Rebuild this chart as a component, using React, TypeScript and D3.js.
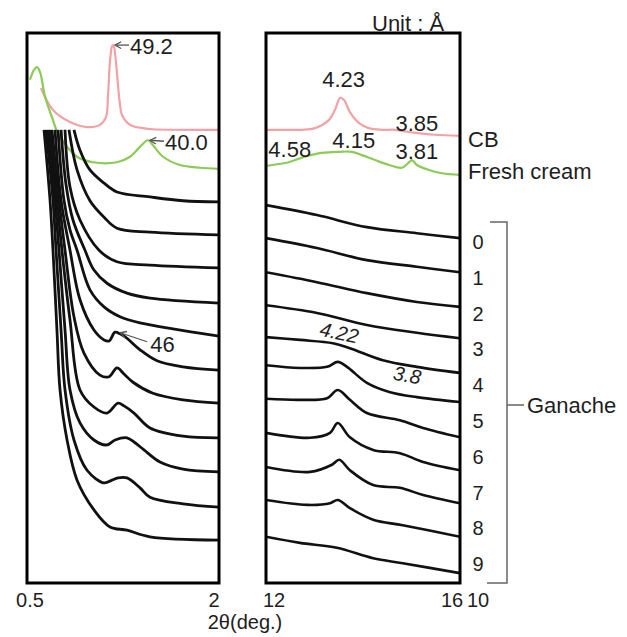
import React from 'react';
import * as d3 from 'd3';

type Pt = [number, number];

// axis ranges (2θ, deg.) and tick labels
const lowAngleDomain: Pt = [0.5, 2];
const wideAngleDomain: Pt = [12, 16];
const lowAngleTicks = [0.5, 2];
const wideAngleTicks = [12, 16];

// ganache sample numbers (0 = top trace)
const sampleLabels = ['0', '1', '2', '3', '4', '5', '6', '7', '8', '9', '10'];

// low angle panel, [2θ, intensity a.u.]
const cbLow: Pt[] = [[0.609, 90.0], [0.625, 89.1], [0.703, 86.0], [0.836, 83.8], [0.969, 82.9], [1.070, 83.3], [1.117, 84.7], [1.133, 88.7], [1.148, 94.7], [1.164, 97.6], [1.172, 97.8], [1.180, 97.5], [1.195, 94.7], [1.211, 90.5], [1.227, 86.9], [1.242, 85.1], [1.305, 83.3], [1.406, 82.7], [1.484, 82.5], [2.0, 82.4]];
const creamLow: Pt[] = [[0.523, 91.5], [0.555, 93.3], [0.578, 93.8], [0.602, 92.9], [0.641, 88.4], [0.695, 84.7], [0.742, 81.8], [0.891, 77.5], [1.016, 76.5], [1.203, 76.5], [1.305, 77.5], [1.383, 79.3], [1.445, 80.5], [1.484, 79.6], [1.563, 77.5], [1.695, 76.0], [1.852, 75.5], [2.0, 75.3]];
const ganacheLow: Pt[][] = [
  [[0.867, 82.4], [0.914, 78.7], [0.992, 75.1], [1.102, 72.7], [1.203, 71.1], [1.461, 70.2], [1.719, 69.5], [2.0, 69.3]],
  [[0.828, 82.4], [0.891, 75.1], [0.992, 69.5], [1.102, 66.5], [1.203, 64.5], [1.461, 63.8], [2.0, 63.3]],
  [[0.797, 82.4], [0.836, 72.0], [0.914, 66.0], [1.063, 60.5], [1.203, 58.4], [1.461, 57.8], [2.0, 57.3]],
  [[0.766, 82.4], [0.805, 72.4], [0.859, 66.0], [0.953, 60.5], [1.023, 56.9], [1.125, 54.5], [1.281, 52.7], [1.461, 51.8], [2.0, 50.9]],
  [[0.742, 82.4], [0.789, 69.6], [0.836, 64.2], [0.891, 60.5], [0.992, 53.3], [1.102, 50.2], [1.227, 48.4], [1.383, 47.3], [2.0, 44.9]],
  [[0.719, 82.4], [0.766, 69.6], [0.836, 60.5], [0.914, 51.5], [1.023, 46.0], [1.102, 44.2], [1.141, 44.0], [1.188, 45.6], [1.227, 45.3], [1.281, 44.5], [1.383, 42.4], [1.516, 40.4], [1.719, 39.3], [2.0, 38.7]],
  [[0.695, 82.4], [0.750, 69.6], [0.797, 60.5], [0.867, 48.4], [0.945, 41.8], [1.070, 37.8], [1.141, 37.5], [1.203, 39.1], [1.258, 38.0], [1.328, 36.5], [1.484, 34.5], [1.719, 33.3], [2.0, 32.7]],
  [[0.680, 82.4], [0.734, 69.6], [0.773, 60.5], [0.836, 47.8], [0.914, 35.1], [1.023, 32.0], [1.125, 30.9], [1.211, 32.7], [1.258, 32.2], [1.336, 30.9], [1.461, 28.2], [1.719, 26.7], [2.0, 26.4]],
  [[0.664, 82.4], [0.719, 69.6], [0.750, 60.5], [0.797, 46.0], [0.836, 35.1], [0.914, 29.1], [1.023, 26.0], [1.125, 25.1], [1.188, 26.0], [1.281, 26.4], [1.344, 25.5], [1.414, 24.2], [1.539, 22.0], [1.719, 20.7], [2.0, 20.2]],
  [[0.648, 82.4], [0.703, 69.6], [0.727, 60.5], [0.766, 46.0], [0.797, 35.1], [0.867, 26.0], [0.969, 20.5], [1.102, 18.2], [1.164, 18.7], [1.211, 19.1], [1.281, 19.1], [1.383, 17.3], [1.461, 15.6], [1.719, 14.4], [2.0, 13.8]],
  [[0.633, 82.4], [0.680, 69.6], [0.703, 60.5], [0.734, 46.0], [0.758, 35.1], [0.813, 26.0], [0.891, 18.7], [1.023, 13.3], [1.148, 10.2], [1.281, 9.6], [1.461, 8.4], [2.0, 7.8]],
];

// wide angle panel
const cbWide: Pt[] = [[12.0, 82.4], [12.33, 82.4], [12.74, 82.4], [13.01, 82.7], [13.30, 84.2], [13.42, 86.0], [13.53, 88.2], [13.61, 87.8], [13.73, 85.6], [13.92, 83.6], [14.12, 82.7], [14.39, 82.4], [14.66, 82.4], [14.95, 82.0], [15.15, 81.8], [15.48, 81.5], [16.0, 81.3]];
const creamWide: Pt[] = [[12.0, 75.8], [12.12, 76.0], [12.47, 76.5], [12.80, 77.5], [13.15, 78.2], [13.51, 78.4], [13.77, 78.4], [13.98, 77.8], [14.25, 76.9], [14.54, 76.0], [14.80, 75.5], [14.95, 76.5], [15.01, 76.9], [15.11, 76.0], [15.36, 75.1], [15.63, 74.5], [16.0, 74.2]];
const ganacheWide: Pt[][] = [
  [[12.0, 68.7], [13.05, 66.9], [14.08, 64.7], [15.11, 63.6], [16.0, 62.7]],
  [[12.0, 62.7], [13.05, 60.9], [14.08, 58.7], [15.11, 57.5], [16.0, 56.5]],
  [[12.0, 56.5], [13.05, 54.7], [14.08, 52.7], [15.11, 51.1], [16.0, 50.2]],
  [[12.0, 50.5], [13.05, 49.1], [14.08, 46.9], [15.11, 45.5], [16.0, 44.5]],
  [[12.0, 44.7], [12.70, 44.2], [13.38, 43.6], [13.73, 42.7], [14.41, 40.5], [15.11, 39.3], [16.0, 38.2]],
  [[12.0, 39.6], [12.70, 39.1], [13.26, 39.3], [13.48, 40.2], [13.67, 39.3], [14.08, 36.4], [14.56, 34.7], [15.11, 33.8], [16.0, 32.9]],
  [[12.0, 33.5], [12.70, 33.3], [13.26, 33.6], [13.48, 35.1], [13.73, 33.3], [14.08, 30.9], [14.76, 29.6], [15.24, 28.2], [16.0, 26.5]],
  [[12.0, 27.3], [12.91, 26.4], [13.32, 27.3], [13.48, 29.1], [13.73, 26.5], [14.21, 24.2], [14.76, 23.6], [15.24, 22.0], [16.0, 20.5]],
  [[12.0, 21.1], [12.91, 20.2], [13.36, 21.5], [13.51, 22.4], [13.73, 20.5], [14.21, 17.8], [14.76, 17.3], [15.24, 16.0], [16.0, 14.5]],
  [[12.0, 15.1], [12.85, 14.2], [13.32, 14.5], [13.48, 15.1], [13.73, 13.6], [14.21, 11.5], [14.82, 10.5], [16.0, 8.4]],
  [[12.0, 8.4], [12.70, 7.3], [13.46, 6.4], [14.21, 4.5], [14.82, 3.6], [16.0, 1.8]],
];

// d-spacing labels (Å) at their peaks: [text, 2θ, intensity]
const lowPeakLabels: [string, number, number][] = [['49.2', 1.172, 97.8], ['40.0', 1.445, 80.5], ['46', 1.22, 45.5]];
const widePeakLabels: [string, number, number][] = [['4.23', 13.60, 91.5], ['3.85', 15.11, 83.5], ['4.58', 12.49, 78.9], ['4.15', 13.81, 80.5], ['3.81', 15.11, 78.4]];
const wideItalicLabels: [string, number, number][] = [['4.22', 13.51, 45.5], ['3.8', 14.91, 37.8]];

const FONT = '"Liberation Sans", Arial, sans-serif';
const PINK = '#f2a2a6';
const GREEN = '#8ccb55';

const Arrow = ({ x1, y1, x2, y2 }: { x1: number; y1: number; x2: number; y2: number }) => {
  // arrow head sits at (x2, y2)
  const a = Math.atan2(y1 - y2, x1 - x2);
  const h = 7;
  const p1 = [x2 + h * Math.cos(a - 0.5), y2 + h * Math.sin(a - 0.5)];
  const p2 = [x2 + h * Math.cos(a + 0.5), y2 + h * Math.sin(a + 0.5)];
  return (
    <g stroke="#555" strokeWidth={1.3} fill="none">
      <line x1={x1} y1={y1} x2={x2} y2={y2} />
      <polyline points={`${p1[0]},${p1[1]} ${x2},${y2} ${p2[0]},${p2[1]}`} />
    </g>
  );
};

export default function App() {
  const top = 33, bottom = 583;
  const xL = d3.scaleLinear().domain(lowAngleDomain).range([27, 219]);
  const xR = d3.scaleLinear().domain(wideAngleDomain).range([266, 460]);
  const y = d3.scaleLinear().domain([0, 100]).range([bottom, top]);
  const sampleY = d3.scaleLinear().domain([0, sampleLabels.length - 1]).range([242, 600]);

  const curve = d3.curveCatmullRom.alpha(0.5);
  const lineL = d3.line<Pt>().x(d => xL(d[0])).y(d => y(d[1])).curve(curve);
  const lineR = d3.line<Pt>().x(d => xR(d[0])).y(d => y(d[1])).curve(curve);

  const txt = { fontFamily: FONT, fontSize: 22, fill: '#1e1e1e' } as const;
  const small = { ...txt, fontSize: 20 };

  // arrow offsets for the low-angle labels
  const lowArrows = [
    { dx1: 16, dy1: 0, dx2: 2, dy2: 0, tx: 17, ty: 1 },
    { dx1: 16, dy1: 1, dx2: 2, dy2: 0, tx: 17, ty: 2 },
    { dx1: 28, dy1: 9, dx2: 1, dy2: 0, tx: 31, ty: 12 },
  ];

  return (
    <svg width={627} height={637} style={{ position: 'absolute', left: 0, top: 0, background: '#fff' }}>
      <defs>
        <clipPath id="clipL"><rect x={xL(0.5) - 5} y={top} width={xL(2) - xL(0.5) + 5} height={bottom - top} /></clipPath>
        <clipPath id="clipR"><rect x={xR(12)} y={top} width={xR(16) - xR(12)} height={bottom - top} /></clipPath>
      </defs>

      <g clipPath="url(#clipL)" fill="none" strokeLinejoin="round">
        <path d={lineL(cbLow) || ''} stroke={PINK} strokeWidth={2.2} />
        <path d={lineL(creamLow) || ''} stroke={GREEN} strokeWidth={2.2} />
        {ganacheLow.map((s, i) => (
          <path key={i} d={lineL(s) || ''} stroke="#111" strokeWidth={2.8} />
        ))}
      </g>
      <g clipPath="url(#clipR)" fill="none" strokeLinejoin="round">
        <path d={lineR(cbWide) || ''} stroke={PINK} strokeWidth={2.2} />
        <path d={lineR(creamWide) || ''} stroke={GREEN} strokeWidth={2.2} />
        {ganacheWide.map((s, i) => (
          <path key={i} d={lineR(s) || ''} stroke="#111" strokeWidth={2.6} />
        ))}
      </g>

      {/* frames */}
      <rect x={xL(0.5)} y={top} width={xL(2) - xL(0.5)} height={bottom - top} fill="none" stroke="#000" strokeWidth={3} />
      <rect x={xR(12)} y={top} width={xR(16) - xR(12)} height={bottom - top} fill="none" stroke="#000" strokeWidth={3} />

      {/* low angle peak labels */}
      {lowPeakLabels.map(([t, px, py], i) => {
        const a = lowArrows[i];
        const cx = xL(px), cy = y(py);
        return (
          <g key={t}>
            <Arrow x1={cx + a.dx1} y1={cy + a.dy1} x2={cx + a.dx2} y2={cy + a.dy2} />
            <text x={cx + a.tx} y={cy + a.ty} dominantBaseline="central" {...txt}>{t}</text>
          </g>
        );
      })}

      {/* wide angle peak labels */}
      {widePeakLabels.map(([t, px, py]) => (
        <text key={t} x={xR(px)} y={y(py)} textAnchor="middle" dominantBaseline="central" {...txt}>{t}</text>
      ))}
      {wideItalicLabels.map(([t, px, py], i) => (
        <text key={t} x={xR(px)} y={y(py)} textAnchor="middle" dominantBaseline="central" fontStyle="italic"
          transform={`rotate(${i === 0 ? 12 : 10}, ${xR(px)}, ${y(py)})`} {...small}>{t}</text>
      ))}

      <text x={372} y={23} dominantBaseline="central" {...txt}>Unit : Å</text>
      <text x={468} y={y(cbWide[cbWide.length - 1][1]) + 4} dominantBaseline="central" {...txt}>CB</text>
      <text x={468} y={y(creamWide[creamWide.length - 1][1]) - 3} dominantBaseline="central" {...txt}>Fresh cream</text>

      {/* sample numbers + bracket */}
      {sampleLabels.map((s, i) => (
        <text key={s} x={478} y={sampleY(i)} textAnchor="middle" dominantBaseline="central" {...small}>{s}</text>
      ))}
      <path d={`M490,${sampleY(0) - 20} H507 V${bottom} H487 M507,405 H524`} fill="none" stroke="#666" strokeWidth={1.5} />
      <text x={527} y={405} dominantBaseline="central" {...txt}>Ganache</text>

      {/* x ticks */}
      {lowAngleTicks.map((v, i) => (
        <text key={v} x={xL(v) + (i === 0 ? 3 : -5)} y={600} textAnchor="middle" dominantBaseline="central" {...small}>{v}</text>
      ))}
      {wideAngleTicks.map((v, i) => (
        <text key={v} x={xR(v) + (i === 0 ? 8 : -8)} y={600} textAnchor="middle" dominantBaseline="central" {...small}>{v}</text>
      ))}
      <text x={245} y={622} textAnchor="middle" dominantBaseline="central" {...small}>2θ(deg.)</text>
    </svg>
  );
}
